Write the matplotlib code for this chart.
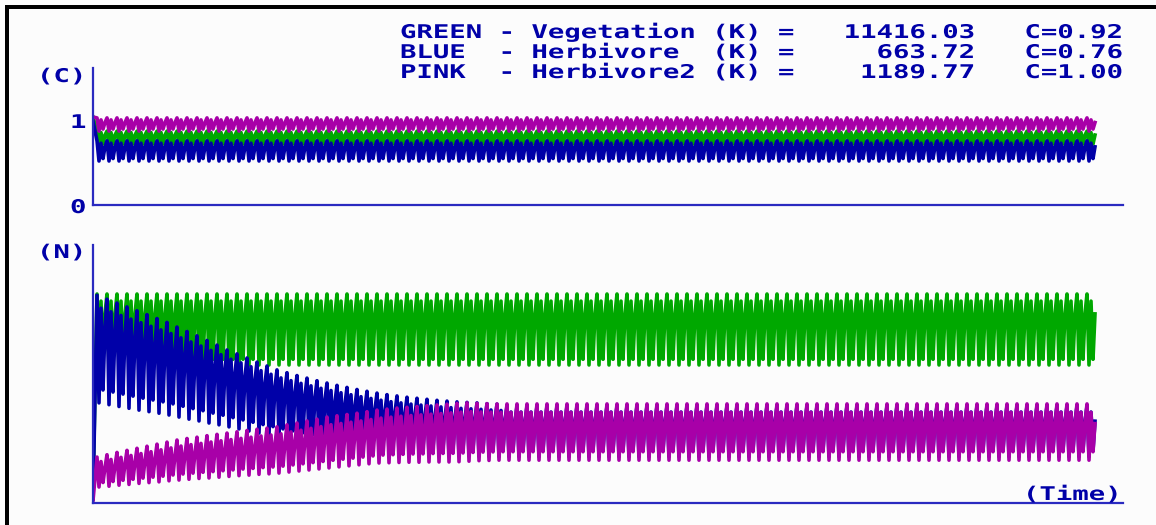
import numpy as np
import matplotlib
matplotlib.use("Agg")
import matplotlib.pyplot as plt
import matplotlib.patheffects as pe
from matplotlib.patches import Rectangle
from matplotlib.transforms import Affine2D


# Donnees

NOMS       = ["GREEN", "BLUE", "PINK"]
ESPECES    = ["Vegetation", "Herbivore", "Herbivore2"]
K_VALEURS  = [11416.03, 663.72, 1189.77]
C_VALEURS  = [0.92, 0.76, 1.00]

N_CYCLES = 100

# Forme d'un cycle (5 pas de temps), fraction entre le bas et le haut de la bande
FORME_VERT  = [1.0, 0.0, 0.90, 0.08, 0.72]
FORME_BLEU  = [1.0, 0.0, 0.88, 0.12, 0.70]
FORME_ROSE  = [1.0, 0.0, 0.85, 0.15, 0.65]

# Coefficient C (panneau du haut) : bande bas / haut de chaque espece
C_VERT_BAS, C_VERT_HAUT = 0.68, 0.84
C_BLEU_BAS, C_BLEU_HAUT = 0.50, 0.73
C_ROSE_BAS, C_ROSE_HAUT = 0.84, 0.99
C_DEPART = [1.0, 0.95, 1.0]

# Effectifs N (panneau du bas, echelle relative 0-100)
N_VERT_BAS, N_VERT_HAUT = 53.5, 81.0
N_DEPART = [5.0, 1.5, 1.0]

# Enveloppe transitoire par cycle (bleu descend, rose monte)
BLEU_HAUT = [80.5, 79.0, 77.5, 76.0, 74.5, 73.0, 71.5, 70.0, 68.2, 66.5,
             64.8, 63.0, 61.2, 59.3, 57.8, 56.2, 54.6, 53.1, 51.6, 50.5,
             49.4, 48.4, 47.4, 46.5, 45.6, 44.8, 44.0, 43.3, 42.6, 42.0,
             41.5, 41.0, 40.6, 40.2, 39.8, 39.5, 39.2, 39.0, 38.8, 38.5, 38.3]
BLEU_BAS  = [38.8, 38.1, 37.4, 36.7, 36.0, 35.4, 34.8, 34.1, 33.3, 32.5,
             31.8, 31.0, 30.3, 29.5, 28.7, 27.9, 27.1, 26.4, 25.6, 24.9,
             24.2, 23.5, 22.9, 22.3, 21.7, 21.2, 20.7, 20.2, 19.6, 19.3,
             19.0, 18.8, 18.6, 18.5, 18.4, 18.3, 18.2, 18.2, 18.1, 18.1, 18.0]
ROSE_HAUT = [17.8, 18.7, 19.6, 20.4, 21.2, 22.0, 22.8, 23.6, 24.4, 25.0,
             25.5, 26.1, 26.6, 27.1, 27.6, 28.1, 28.6, 29.0, 29.5, 30.3,
             31.0, 31.8, 32.5, 33.3, 33.8, 34.3, 34.8, 35.4, 36.0, 36.4,
             36.8, 37.1, 37.4, 37.7, 38.0, 38.3, 38.6, 38.8, 38.6, 38.5, 38.4]
ROSE_BAS  = [6.2, 6.5, 6.9, 7.2, 7.6, 7.9, 8.2, 8.6, 8.9, 9.2,
             9.5, 9.7, 10.0, 10.3, 10.6, 10.8, 11.1, 11.3, 11.6, 12.0,
             12.4, 12.8, 13.2, 13.6, 14.0, 14.4, 14.8, 15.2, 15.5, 15.6,
             15.7, 15.8, 15.8, 15.9, 15.9, 15.9, 16.0, 16.2, 16.4, 16.5, 16.6]
BLEU_HAUT_STABLE, BLEU_BAS_STABLE = 37.6, 18.0
ROSE_HAUT_STABLE, ROSE_BAS_STABLE = 38.4, 16.6


# Couleurs (palette EGA)
VERT  = "#00A800"
BLEU  = "#0000A8"
ROSE  = "#A800A8"
TEXTE = "#0000A8"
AXE   = "#2A2AC0"
FOND  = "#FCFCFC"

L, H = 1156, 525


class Etirement(pe.AbstractPathEffect):
    """Elargit le texte horizontalement (police DOS etiree)."""

    def __init__(self, sx):
        super().__init__()
        self.sx = sx

    def draw_path(self, renderer, gc, tpath, affine, rgbFace=None):
        renderer.draw_path(gc, tpath, Affine2D().scale(self.sx, 1.0) + affine, rgbFace)


def texte_dos(fig, x, y, s):
    # x, y en pixels depuis le coin haut gauche, y = ligne de base
    t = fig.text(x / L, 1 - y / H, s, ha="left", va="baseline",
                 family="DejaVu Sans Mono", fontweight="bold",
                 fontsize=13.6, color=TEXTE)
    t.set_path_effects([Etirement(1.445)])
    return t


def completer(liste, stable):
    return list(liste) + [stable] * (N_CYCLES - len(liste))


def serie(bas, haut, forme, depart):
    valeurs = [depart]
    for b, h in zip(bas, haut):
        for f in forme:
            valeurs.append(b + f * (h - b))
    return np.array(valeurs)


def temps(n):
    # premier point a t=0, les cycles commencent a t=2
    return np.concatenate([[0], np.arange(2, n + 1)])


# Construction des series

c_vert = serie([C_VERT_BAS] * N_CYCLES, [C_VERT_HAUT] * N_CYCLES, FORME_VERT, C_DEPART[0])
c_bleu = serie([C_BLEU_BAS] * N_CYCLES, [C_BLEU_HAUT] * N_CYCLES, FORME_BLEU, C_DEPART[1])
c_rose = serie([C_ROSE_BAS] * N_CYCLES, [C_ROSE_HAUT] * N_CYCLES, FORME_ROSE, C_DEPART[2])

n_vert = serie([N_VERT_BAS] * N_CYCLES, [N_VERT_HAUT] * N_CYCLES, FORME_VERT, N_DEPART[0])
n_bleu = serie(completer(BLEU_BAS, BLEU_BAS_STABLE), completer(BLEU_HAUT, BLEU_HAUT_STABLE),
               FORME_BLEU, N_DEPART[1])
n_rose = serie(completer(ROSE_BAS, ROSE_BAS_STABLE), completer(ROSE_HAUT, ROSE_HAUT_STABLE),
               FORME_ROSE, N_DEPART[2])


# Mise en page

fig = plt.figure(figsize=(L / 100, H / 100), dpi=100)
fig.patch.set_facecolor(FOND)

# cadre noir (haut et gauche)
fig.add_artist(Rectangle((5 / L, 0), 4 / L, 1 - 5 / H, transform=fig.transFigure,
                         facecolor="black", edgecolor="none"))
fig.add_artist(Rectangle((5 / L, 1 - 9 / H), 1 - 5 / L, 4 / H, transform=fig.transFigure,
                         facecolor="black", edgecolor="none"))

x0, x1 = 93, 1123
ax_c = fig.add_axes([x0 / L, 1 - 205 / H, (x1 - x0) / L, (205 - 68) / H])
ax_n = fig.add_axes([x0 / L, 1 - 503 / H, (x1 - x0) / L, (503 - 245) / H])

t_max = (x1 - x0) / 2.0

for ax in (ax_c, ax_n):
    ax.set_facecolor(FOND)
    for cote in ("top", "right"):
        ax.spines[cote].set_visible(False)
    for cote in ("left", "bottom"):
        ax.spines[cote].set_color(AXE)
        ax.spines[cote].set_linewidth(1.6)
    ax.set_xticks([])
    ax.set_yticks([])
    ax.set_xlim(0, t_max)

ax_c.set_ylim(0, 1.557)
ax_n.set_ylim(0, 100)

lw = 2.6
ax_c.plot(temps(len(c_vert)), c_vert, color=VERT, lw=lw)
ax_c.plot(temps(len(c_bleu)), c_bleu, color=BLEU, lw=lw)
ax_c.plot(temps(len(c_rose)), c_rose, color=ROSE, lw=lw)

ax_n.plot(temps(len(n_vert)), n_vert, color=VERT, lw=lw)
ax_n.plot(temps(len(n_bleu)), n_bleu, color=BLEU, lw=lw)
ax_n.plot(temps(len(n_rose)), n_rose, color=ROSE, lw=lw)

# Textes
for i in range(3):
    ligne = (NOMS[i].ljust(5) + " - " + ESPECES[i].ljust(10) + " (K) = "
             + ("%.2f" % K_VALEURS[i]).rjust(10) + "   C=" + "%.2f" % C_VALEURS[i])
    texte_dos(fig, 400, 38 + 20 * i, ligne)

texte_dos(fig, 37, 82, "(C)")
texte_dos(fig, 70, 128, "1")
texte_dos(fig, 70, 213, "0")
texte_dos(fig, 37, 258, "(N)")
texte_dos(fig, 1023, 500, "(Time)")

plt.savefig("out.png", dpi=100, facecolor=fig.get_facecolor())
